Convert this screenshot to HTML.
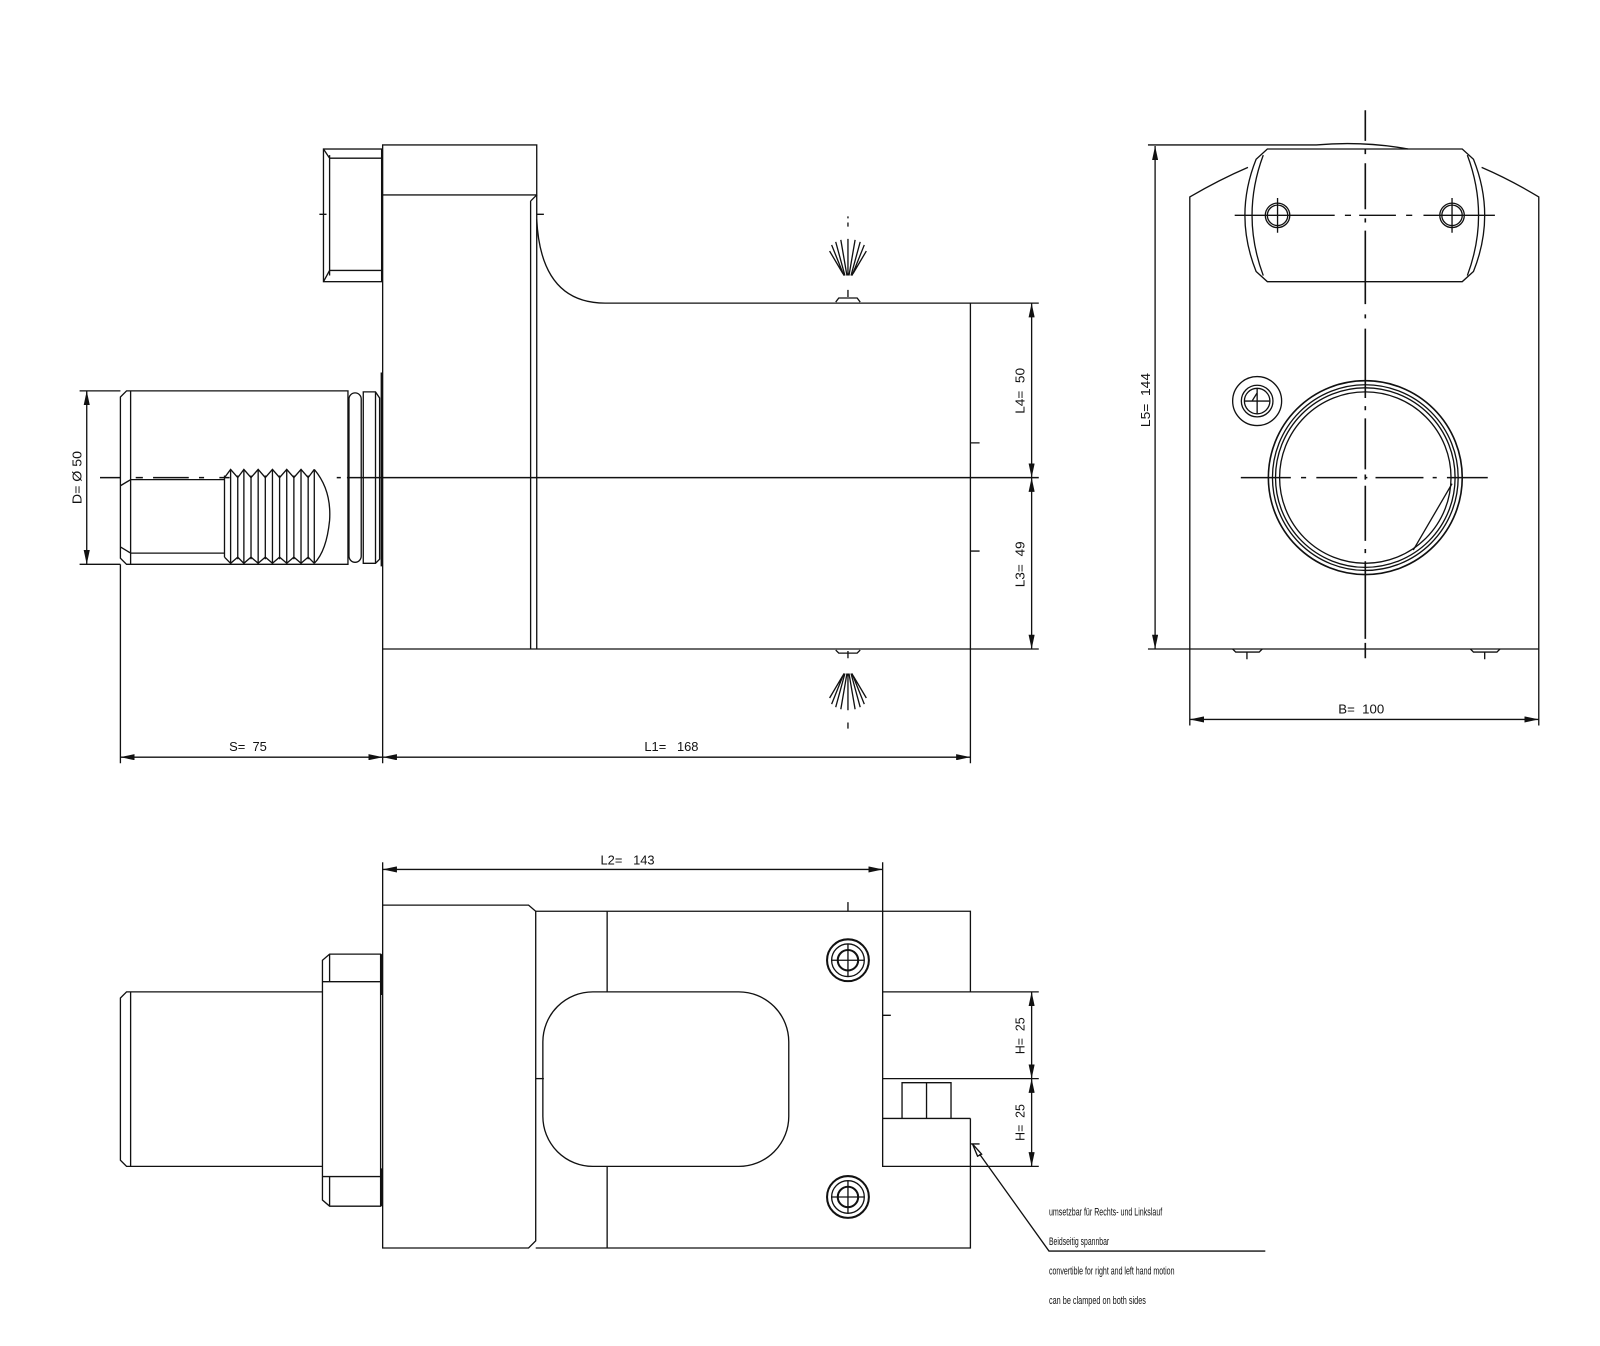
<!DOCTYPE html>
<html><head><meta charset="utf-8"><style>
html,body{margin:0;padding:0;background:#fff;width:1600px;height:1346px;overflow:hidden}
svg{display:block}
text{font-family:"Liberation Sans",sans-serif;fill:#111;white-space:pre}
</style></head><body>
<svg width="1600" height="1346" viewBox="0 0 1568 1319" xmlns="http://www.w3.org/2000/svg">
<defs>
<marker id="a" viewBox="0 0 14 6" refX="14" refY="3" markerWidth="14" markerHeight="6" markerUnits="userSpaceOnUse" orient="auto-start-reverse"><path d="M0,0 L14,3 L0,6 z" fill="#111"/></marker>
</defs>
<g fill="none" stroke="#111" stroke-width="1.3">
<rect x="317" y="146" width="57" height="130"/>
<path d="M323,152 V270 M317,146 L323,155 H374 M317,276 L323,265 H374"/>
<rect x="375" y="142" width="151" height="49"/>
<path d="M375,191 V636 M520,197 V636 M526,191 V636 M520,197 L526,191"/>
<path d="M313,210 H320 M526,210 H533"/>
<path d="M526,215 Q530,297 593,297 H951 V636 H375"/>
<path d="M98,468 H118 M133,468 H140 M150,468 H185 M195,468 H200 M215,468 H225" stroke-width="1.5"/>
<path d="M330,468 H334 M340,468 H1018" stroke-width="1.5"/>
<path d="M124,383 H341 V553 H124 L118,547 V389 Z"/>
<path d="M128,383 V553 M128,470 H220 M128,542 H220 M118,476 L128,470 M118,536 L128,542"/>
<path d="M220,466 V546"/>
<path d="M220,468 L226,460 L233,468 L239,460 L246,468 L253,460 L260,468 L267,460 L274,468 L281,460 L288,468 L295,460 L302,468 L308,460"/>
<path d="M220,546 L226,552 L233,546 L239,552 L246,546 L253,552 L260,546 L267,552 L274,546 L281,552 L288,546 L295,552 L302,546 L308,552"/>
<path d="M226,460 V552 M233,466 V548 M239,460 V552 M246,466 V548 M253,460 V552 M260,466 V548 M267,460 V552 M274,466 V548 M281,460 V552 M288,466 V548 M295,460 V552 M302,466 V548 M308,460 V552"/>
<path d="M308,460 Q325,480 323,510 Q320,540 308,552"/>
<rect x="342" y="385" width="12" height="166" rx="6"/>
<path d="M356,384 H368 L372,390 V548 L368,552 H356 Z M368,384 V552"/>
<path d="M374,365 V555" stroke-width="2"/>
<g stroke-width="1.3">
<path d="M831,218 V222 M831,212 V214"/>
<path d="M827,270 L815,240 M828,270 L819,237 M830,270 L824,235 M831,270 V234 M832,270 L838,235 M834,270 L843,237 M835,270 L847,240 M826,268 L813,246 M836,268 L849,246"/>
<path d="M831,284 V291 M819,296 L822,292 H840 L843,296"/>
<path d="M831,645 V638 M819,637 L822,640 H840 L843,637"/>
<path d="M827,660 L815,690 M828,660 L819,693 M830,660 L824,695 M831,660 V696 M832,660 L838,695 M834,660 L843,693 M835,660 L847,690 M826,662 L813,684 M836,662 L849,684"/>
<path d="M831,708 V714"/>
</g>
<path d="M951,434 H960 M951,540 H960"/>
<path d="M78,383 H118 M78,553 H118"/>
<path d="M85,383 V553" marker-start="url(#a)" marker-end="url(#a)"/>
<path d="M118,553 V748 M375,636 V748 M951,636 V748"/>
<path d="M118,742 H375" marker-start="url(#a)" marker-end="url(#a)"/>
<path d="M375,742 H951" marker-start="url(#a)" marker-end="url(#a)"/>
<path d="M951,297 H1018 M1018,636 H951"/>
<path d="M1011,297 V468" marker-start="url(#a)" marker-end="url(#a)"/>
<path d="M1011,468 V636" marker-start="url(#a)" marker-end="url(#a)"/>

<path d="M1166,711 V193 Q1195,176 1223,164 M1508,711 V193 Q1480,176 1452,164"/>
<path d="M1125,636 H1508"/>
<path d="M1242,146 H1433 L1444,156 Q1466,211 1444,266 L1433,276 H1242 L1231,266 Q1209,211 1231,156 Z"/>
<path d="M1238,152 Q1216,211 1238,270 M1438,152 Q1460,211 1438,270"/>
<path d="M1125,142 H1290 Q1336,138 1380,146"/>
<circle cx="1252" cy="211" r="12"/><circle cx="1252" cy="211" r="10"/>
<circle cx="1423" cy="211" r="12"/><circle cx="1423" cy="211" r="10"/>
<path d="M1252,194 V228 M1423,194 V228"/>
<path d="M1210,211 H1308 M1318,211 H1324 M1332,211 H1368 M1378,211 H1384 M1395,211 H1465" stroke-width="1.4"/>
<path d="M1338,108 V138 M1338,146 V151 M1338,160 V205 M1338,214 V218 M1338,226 V298 M1338,308 V312 M1338,322 V390 M1338,398 V402 M1338,410 V460 M1338,465 V470 M1338,476 V530 M1338,538 V542 M1338,550 V626 M1338,630 V645" stroke-width="1.6"/>
<circle cx="1338" cy="468" r="95" stroke-width="1.6"/>
<circle cx="1338" cy="468" r="91"/>
<circle cx="1338" cy="468" r="88"/>
<circle cx="1338" cy="468" r="84"/>
<path d="M1423,474 L1385,539"/>
<path d="M1216,468 H1265 M1275,468 H1280 M1290,468 H1330 M1338,468 H1340 M1348,468 H1395 M1404,468 H1408 M1418,468 H1458" stroke-width="1.5"/>
<circle cx="1232" cy="393" r="24"/><circle cx="1232" cy="393" r="15.5"/><circle cx="1232" cy="393" r="12.5"/>
<path d="M1220,393 H1244 M1232,381 V405 M1227,393 L1232,385"/>
<path d="M1208,636 L1211,639 H1234 L1237,636 M1222,639 V646 M1441,636 L1444,639 H1467 L1470,636 M1455,639 V646"/>
<path d="M1132,143 V636" marker-start="url(#a)" marker-end="url(#a)"/>
<path d="M1166,705 H1508" marker-start="url(#a)" marker-end="url(#a)"/>

<path d="M375,887 H518 L525,893 V1216 L518,1223 H375 Z"/>
<path d="M525,893 H951 V972 M525,1223 H951 V1096"/>
<path d="M595,893 V972 M595,1143 V1223"/>
<rect x="532" y="972" width="241" height="171" rx="49"/>
<path d="M525,1057 H533"/>
<path d="M865,845 V1143 H951 M865,972 H1018 M865,1057 H1018 M865,1096 H951 M951,1143 H1018 M865,995 H873 M951,1121 H960"/>
<path d="M884,1096 V1061 H932 V1096 M908,1061 V1096"/>
<path d="M831,884 V893"/>
<g>
<circle cx="831" cy="941" r="20.5" stroke-width="2"/><circle cx="831" cy="941" r="16"/><circle cx="831" cy="941" r="10" stroke-width="2"/>
<path d="M831,925 V957 M815,941 H847"/>
<circle cx="831" cy="1173" r="20.5" stroke-width="2"/><circle cx="831" cy="1173" r="16"/><circle cx="831" cy="1173" r="10" stroke-width="2"/>
<path d="M831,1157 V1189 M815,1173 H847"/>
</g>
<path d="M323,935 H373 V1182 H323 L316,1176 V941 Z M323,935 V962 M316,962 H373 M316,1153 H373 M323,1182 V1153"/>
<path d="M374,935 V975 M374,1145 V1182" stroke-width="2.2"/>
<path d="M316,972 H124 L118,978 V1137 L124,1143 H316 M128,972 V1143"/>
<path d="M375,845 V887"/>
<path d="M375,852 H865" marker-start="url(#a)" marker-end="url(#a)"/>
<path d="M1011,972 V1057" marker-start="url(#a)" marker-end="url(#a)"/>
<path d="M1011,1057 V1143" marker-start="url(#a)" marker-end="url(#a)"/>
<path d="M953,1121 L962,1131 L958,1133 Z" fill="#fff"/>
<path d="M960,1131 L1028,1226 H1240"/>
</g>
<g font-size="13">
<text transform="translate(80,468) rotate(-90)" text-anchor="middle" textLength="52" lengthAdjust="spacingAndGlyphs">D= Ø 50</text>
<text x="243" y="736" text-anchor="middle" textLength="37" lengthAdjust="spacingAndGlyphs">S=  75</text>
<text x="658" y="736" text-anchor="middle" textLength="53" lengthAdjust="spacingAndGlyphs">L1=   168</text>
<text transform="translate(1004,383) rotate(-90)" text-anchor="middle" textLength="45" lengthAdjust="spacingAndGlyphs">L4=  50</text>
<text transform="translate(1004,553) rotate(-90)" text-anchor="middle" textLength="45" lengthAdjust="spacingAndGlyphs">L3=  49</text>
<text transform="translate(1127,392) rotate(-90)" text-anchor="middle" textLength="53" lengthAdjust="spacingAndGlyphs">L5=  144</text>
<text x="1334" y="699" text-anchor="middle" textLength="45" lengthAdjust="spacingAndGlyphs">B=  100</text>
<text x="615" y="847" text-anchor="middle" textLength="53" lengthAdjust="spacingAndGlyphs">L2=   143</text>
<text transform="translate(1004,1015) rotate(-90)" text-anchor="middle" textLength="36" lengthAdjust="spacingAndGlyphs">H=  25</text>
<text transform="translate(1004,1100) rotate(-90)" text-anchor="middle" textLength="36" lengthAdjust="spacingAndGlyphs">H=  25</text>
</g>
<g font-size="10.5">
<text x="1028" y="1191" textLength="111" lengthAdjust="spacingAndGlyphs">umsetzbar für Rechts- und Linkslauf</text>
<text x="1028" y="1220" textLength="59" lengthAdjust="spacingAndGlyphs">Beidseitig spannbar</text>
<text x="1028" y="1249" textLength="123" lengthAdjust="spacingAndGlyphs">convertible for right and left hand motion</text>
<text x="1028" y="1278" textLength="95" lengthAdjust="spacingAndGlyphs">can be clamped on both sides</text>
</g>
</svg>
</body></html>
